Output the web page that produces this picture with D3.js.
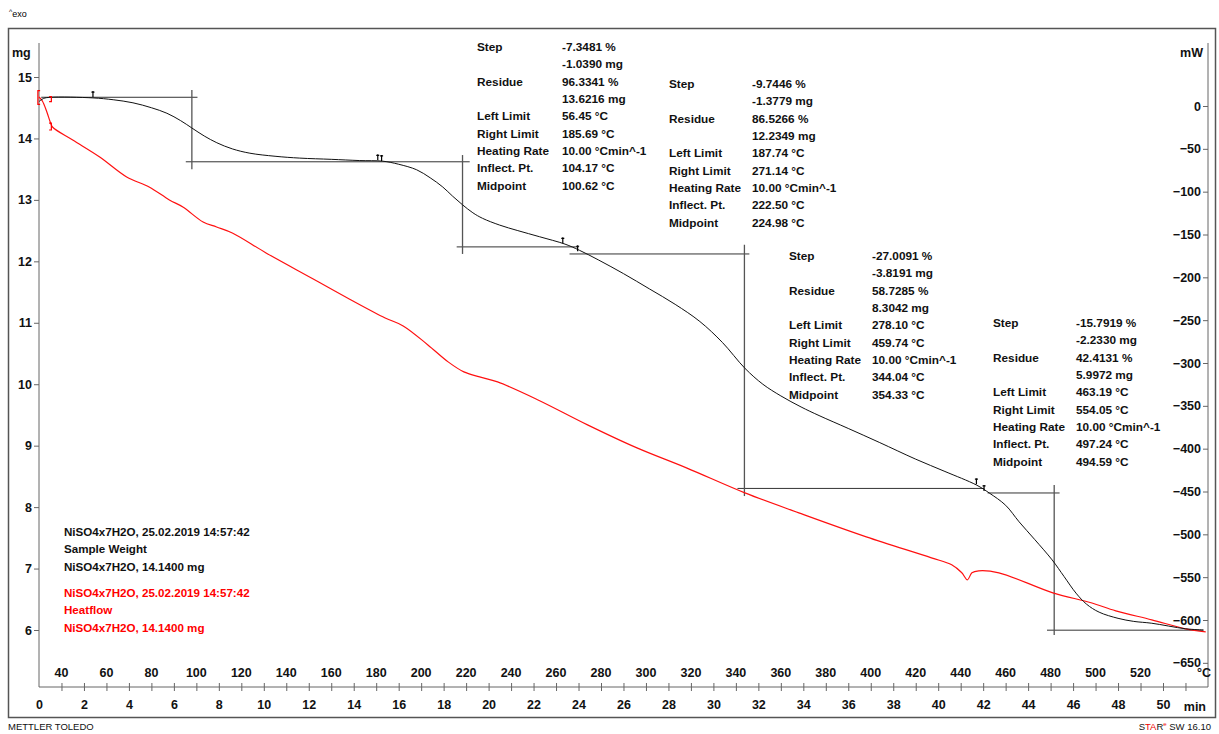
<!DOCTYPE html>
<html><head><meta charset="utf-8">
<script src="https://cdn.jsdelivr.net/npm/d3@7"></script>
<style>
html,body{margin:0;padding:0;background:#fff;}
svg{display:block;font-family:"Liberation Sans",Arial,sans-serif;}
</style></head>
<body>
<svg id="c" width="1219" height="734"></svg>
<script>
// ---------------- DATA ----------------
// TGA curve (black): time [min], mass [mg]
const tgaTime = [0.0,0.2,0.5,2.4,3.3,4.18,5.0,5.69,6.3,6.8,7.35,7.91,8.6,9.38,10.5,11.6,13.0,14.27,15.29,16.0,16.8,17.4,17.96,18.4,18.84,19.3,19.73,20.49,21.3,22.27,23.4,24.04,24.9,26.0,27.16,28.3,29.4,30.4,31.4,32.2,33.0,33.9,34.7,36.0,37.4,39.0,40.3,41.7,42.27,43.0,43.6,44.3,45.07,45.6,46.13,46.6,47.16,48.0,48.7,49.5,51.0,51.8];
const tgaMass = [14.60,14.65,14.67,14.66,14.63,14.58,14.50,14.41,14.29,14.17,14.04,13.93,13.83,13.76,13.71,13.68,13.66,13.64,13.63,13.58,13.49,13.36,13.21,13.06,12.92,12.79,12.70,12.59,12.50,12.40,12.28,12.18,12.02,11.80,11.55,11.30,11.02,10.68,10.26,10.00,9.81,9.63,9.49,9.28,9.05,8.78,8.58,8.36,8.23,8.03,7.76,7.47,7.14,6.87,6.60,6.42,6.29,6.19,6.14,6.11,6.02,6.00];
// Heat flow curve (red): time [min], heat flow [mW]
const hfTime = [0.0,0.15,0.35,0.5,0.6,1.5,2.7,3.9,4.9,5.8,6.4,7.3,7.9,8.6,10.1,12.2,13.8,15.4,16.2,17.3,18.2,18.9,19.6,20.4,22.2,24.4,26.6,28.8,31.4,33.8,36.8,39.7,40.6,41.05,41.3,41.5,41.8,42.7,45.1,46.8,47.9,49.5,51.0,51.9];
const hfPower = [10.5,5.8,-7.0,-18.7,-24.5,-39.7,-59.5,-82.8,-94.5,-109.7,-117.9,-135.4,-141.2,-148.2,-171.5,-201.9,-225.2,-247.4,-256.7,-278.9,-298.7,-310.4,-316.2,-322.1,-343.1,-372.2,-399.1,-422.4,-451.6,-474.9,-502.9,-527.4,-535.6,-544.9,-553.1,-544.9,-542.6,-544.9,-568.3,-579.9,-589.3,-599.8,-610.3,-613.8];

// Tick labels
const timeTicks = [0,2,4,6,8,10,12,14,16,18,20,22,24,26,28,30,32,34,36,38,40,42,44,46,48,50];
const tempTicks = [40,60,80,100,120,140,160,180,200,220,240,260,280,300,320,340,360,380,400,420,440,460,480,500,520];
const massTicks = [6,7,8,9,10,11,12,13,14,15];
const powerTicks = [0,-50,-100,-150,-200,-250,-300,-350,-400,-450,-500,-550,-600,-650];

// Step evaluation results
const stepRowLabels = ["Step","","Residue","","Left Limit","Right Limit","Heating Rate","Inflect. Pt.","Midpoint"];
const step1Values = ["-7.3481 %","-1.0390 mg","96.3341 %","13.6216 mg","56.45 °C","185.69 °C","10.00 °Cmin^-1","104.17 °C","100.62 °C"];
const step2Values = ["-9.7446 %","-1.3779 mg","86.5266 %","12.2349 mg","187.74 °C","271.14 °C","10.00 °Cmin^-1","222.50 °C","224.98 °C"];
const step3Values = ["-27.0091 %","-3.8191 mg","58.7285 %","8.3042 mg","278.10 °C","459.74 °C","10.00 °Cmin^-1","344.04 °C","354.33 °C"];
const step4Values = ["-15.7919 %","-2.2330 mg","42.4131 %","5.9972 mg","463.19 °C","554.05 °C","10.00 °Cmin^-1","497.24 °C","494.59 °C"];

// Step construction lines (time [min], mass [mg])
const stepHoriz = [ // [t0, t1, mass]
  [0.1, 7.05, 14.67],
  [6.53, 19.16, 13.62],
  [18.58, 24.0, 12.235],
  [23.6, 31.6, 12.12],
  [31.07, 42.04, 8.304],
  [42.2, 45.4, 8.23],
  [44.84, 51.8, 5.997]
];
const stepVert = [ // [t, m0, m1]
  [6.8, 14.79, 13.50],
  [18.84, 13.73, 12.12],
  [31.38, 12.27, 8.18],
  [45.16, 8.36, 5.92]
];
const limitMarkT = [2.4, 15.07, 15.24, 23.3, 23.96, 41.7, 42.04];
const limitMarkM = [14.69, 13.66, 13.65, 12.31, 12.18, 8.39, 8.28];

const legendBlack = ["NiSO4x7H2O, 25.02.2019 14:57:42","Sample Weight","NiSO4x7H2O, 14.1400 mg"];
const legendRed = ["NiSO4x7H2O, 25.02.2019 14:57:42","Heatflow","NiSO4x7H2O, 14.1400 mg"];

// ---------------- DRAW ----------------
const svg = d3.select("#c");
const X0 = 39, X1 = 1208, YTOP = 43, YBOT = 687;
const x = d3.scaleLinear().domain([0, 52]).range([X0, X0 + 52 * 22.48]);
const yL = d3.scaleLinear().domain([6, 15]).range([630, 77]);
const yR = d3.scaleLinear().domain([-600, 0]).range([620, 106]);
const tempToTime = T => (T - 30) / 10;

// frame
svg.append("rect").attr("x", 8.5).attr("y", 28.5).attr("width", 1207).attr("height", 689)
  .attr("fill", "none").attr("stroke", "#555").attr("stroke-width", 1.5);

// exo
const exo = svg.append("text").attr("x", 9).attr("y", 17).attr("font-size", 9).attr("fill", "#000");
exo.append("tspan").attr("font-size", 7).attr("dy", -3).text("^");
exo.append("tspan").attr("dy", 3).text("exo");

const axisColor = "#666";
const tickFont = sel => sel.attr("font-size", 12.5).attr("font-weight", "bold").attr("fill", "#111").attr("font-family", "Liberation Sans, Arial");
// left axis
svg.append("line").attr("x1", X0).attr("x2", X0).attr("y1", YTOP).attr("y2", YBOT).attr("stroke", axisColor);
const minorMass = d3.range(52, 156, 2).map(v => v / 10);
const gL = svg.append("g").attr("transform", `translate(${X0},0)`);
gL.call(d3.axisLeft(yL).tickValues(minorMass).tickSize(3).tickFormat(""));
gL.call(d3.axisLeft(yL).tickValues(massTicks).tickSize(5).tickPadding(2).tickFormat(d3.format("d")));
gL.selectAll(".domain").remove();
gL.selectAll("line").attr("stroke", axisColor);
gL.selectAll("text").call(tickFont);
svg.append("text").attr("x", 12).attr("y", 57).call(tickFont).text("mg");

// right axis
svg.append("line").attr("x1", X1).attr("x2", X1).attr("y1", YTOP).attr("y2", YBOT).attr("stroke", axisColor);
const minorPow = d3.range(-680, 60, 10);
const gR = svg.append("g").attr("transform", `translate(${X1},0)`);
gR.call(d3.axisLeft(yR).tickValues(minorPow).tickSize(3).tickFormat(""));
gR.call(d3.axisLeft(yR).tickValues(powerTicks).tickSize(5).tickPadding(2).tickFormat(d3.format("d")));
gR.selectAll(".domain").remove();
gR.selectAll("line").attr("stroke", axisColor);
gR.selectAll("text").call(tickFont);
svg.append("text").attr("x", 1203).attr("y", 57).attr("text-anchor", "end").call(tickFont).text("mW");

// bottom axis
svg.append("line").attr("x1", X0).attr("x2", X1).attr("y1", YBOT).attr("y2", YBOT).attr("stroke", axisColor);
const gB = svg.append("g").attr("transform", `translate(0,${YBOT})`);
gB.call(d3.axisBottom(x).tickValues(d3.range(1, 52, 1)).tickSizeInner(4).tickSizeOuter(0).tickFormat(""));
gB.selectAll(".domain").remove();
gB.selectAll("line").attr("stroke", axisColor).attr("y1", -4);
const gB2 = svg.append("g").attr("transform", `translate(0,${YBOT})`);
gB2.call(d3.axisBottom(x).tickValues(timeTicks).tickSize(0).tickPadding(13).tickFormat(d3.format("d")));
gB2.selectAll(".domain").remove();
gB2.selectAll("text").call(tickFont);
svg.append("text").attr("x", 1206).attr("y", 711).attr("text-anchor", "end").call(tickFont).text("min");

// temperature labels
svg.append("g").selectAll("text").data(tempTicks).join("text")
  .attr("x", d => x(tempToTime(d))).attr("y", 677).attr("text-anchor", "middle")
  .call(tickFont).text(d => d);
svg.append("text").attr("x", 1211).attr("y", 677).attr("text-anchor", "end").call(tickFont).text("°C");

// step construction lines
svg.append("g").selectAll("line").data(stepHoriz).join("line")
  .attr("x1", d => x(d[0])).attr("x2", d => x(d[1]))
  .attr("y1", d => yL(d[2])).attr("y2", d => yL(d[2]))
  .attr("stroke", "#333").attr("stroke-width", 1);
svg.append("g").selectAll("line").data(stepVert).join("line")
  .attr("x1", d => x(d[0])).attr("x2", d => x(d[0]))
  .attr("y1", d => yL(d[1])).attr("y2", d => yL(d[2]))
  .attr("stroke", "#555").attr("stroke-width", 1.3);

// curves
const tga = tgaTime.map((t, i) => [t, tgaMass[i]]);
const hf = hfTime.map((t, i) => [t, hfPower[i]]);
svg.append("path").datum(hf)
  .attr("d", d3.line().x(d => x(d[0])).y(d => yR(d[1])).curve(d3.curveCatmullRom.alpha(0.5)))
  .attr("fill", "none").attr("stroke", "#ff1010").attr("stroke-width", 1.2);
svg.append("path").datum(tga)
  .attr("d", d3.line().x(d => x(d[0])).y(d => yL(d[1])).curve(d3.curveCatmullRom.alpha(0.5)))
  .attr("fill", "none").attr("stroke", "#111").attr("stroke-width", 1);

// limit markers on TGA
svg.append("g").selectAll("path").data(limitMarkT.map((t, i) => [t, limitMarkM[i]])).join("path")
  .attr("d", d => { const px = x(d[0]), py = yL(d[1]); return `M${px},${py - 5}L${px},${py + 1}M${px - 1.5},${py - 4}L${px + 1.5},${py - 4}`; })
  .attr("stroke", "#000").attr("stroke-width", 1.2).attr("fill", "none");
// red brackets near start
const rb = svg.append("g").attr("stroke", "#f00").attr("stroke-width", 1.2).attr("fill", "none");
rb.append("path").attr("d", `M${x(0.05)},${yR(18)}L${x(-0.05)},${yR(18)}L${x(-0.05)},${yR(2)}L${x(0.05)},${yR(2)}`);
rb.append("path").attr("d", `M${x(0.45)},${yR(11)}L${x(0.55)},${yR(11)}L${x(0.55)},${yR(5)}L${x(0.45)},${yR(5)}`);
rb.append("path").attr("d", `M${x(0.45)},${yR(-20)}L${x(0.55)},${yR(-20)}L${x(0.55)},${yR(-28)}L${x(0.45)},${yR(-28)}`);

// step annotation blocks
const blocks = [
  {vals: step1Values, lx: 477, vx: 562, y0: 51},
  {vals: step2Values, lx: 669, vx: 752, y0: 88},
  {vals: step3Values, lx: 789, vx: 872, y0: 260},
  {vals: step4Values, lx: 993, vx: 1076, y0: 327}
];
const rowH = 17.35;
blocks.forEach(b => {
  const g = svg.append("g").attr("font-size", 11.8).attr("font-weight", "bold").attr("fill", "#111");
  stepRowLabels.forEach((lab, i) => {
    if (lab) g.append("text").attr("x", b.lx).attr("y", b.y0 + i * rowH).text(lab);
    g.append("text").attr("x", b.vx).attr("y", b.y0 + i * rowH).text(b.vals[i]);
  });
});

// legends
const lg = svg.append("g").attr("font-size", 11.6).attr("font-weight", "bold");
legendBlack.forEach((s, i) => lg.append("text").attr("x", 64).attr("y", 536 + i * 17.3).attr("fill", "#111").text(s));
legendRed.forEach((s, i) => lg.append("text").attr("x", 64).attr("y", 597 + i * 17.3).attr("fill", "#ff0000").text(s));

// footer
svg.append("text").attr("x", 8).attr("y", 730).attr("font-size", 9.5).attr("fill", "#111").text("METTLER TOLEDO");
const st = svg.append("text").attr("x", 1211).attr("y", 730).attr("font-size", 9.5).attr("text-anchor", "end").attr("fill", "#111");
st.append("tspan").text("S");
st.append("tspan").attr("fill", "#e00").text("TA");
st.append("tspan").text("R");
st.append("tspan").attr("font-size", 6).attr("dy", -4).attr("fill", "#e00").text("e");
st.append("tspan").attr("dy", 4).text(" SW 16.10");
</script>
</body></html>
